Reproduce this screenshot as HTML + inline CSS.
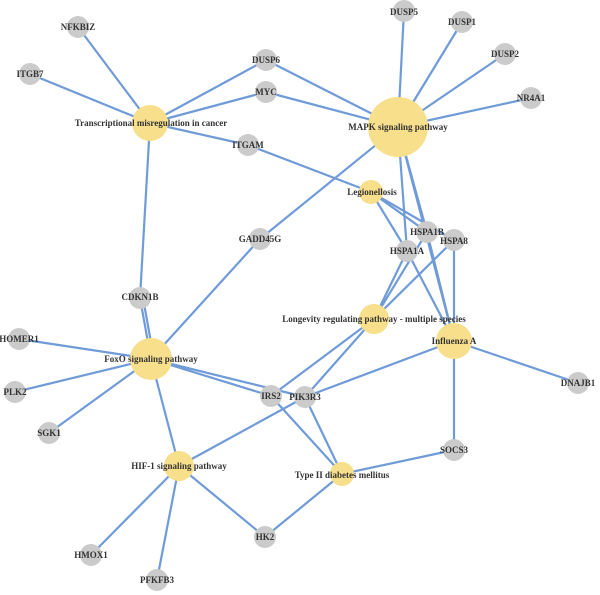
<!DOCTYPE html>
<html><head><style>body{margin:0;background:#fff}svg{display:block}text{font-family:"Liberation Serif",serif;font-weight:bold;font-size:9px;fill:#333;text-anchor:middle;dominant-baseline:central}</style></head><body>
<svg width="600" height="595" viewBox="0 0 600 595">
<g stroke="#6f9bd8" stroke-width="2.2" fill="none">
<line x1="150" y1="123" x2="78" y2="27"/><line x1="150" y1="123" x2="30" y2="74"/><line x1="150" y1="123" x2="266" y2="60"/><line x1="150" y1="123" x2="266" y2="92"/><line x1="150" y1="123" x2="248" y2="145"/><line x1="150" y1="123" x2="140" y2="298"/>
<line x1="398" y1="127" x2="266" y2="60"/><line x1="398" y1="127" x2="266" y2="92"/><line x1="398" y1="127" x2="404" y2="11"/><line x1="398" y1="127" x2="462" y2="22"/><line x1="398" y1="127" x2="505" y2="54"/><line x1="398" y1="127" x2="531" y2="98"/><line x1="398" y1="127" x2="260" y2="239"/><line x1="398" y1="127" x2="407" y2="251"/><line x1="398" y1="127" x2="427" y2="232"/><line x1="398" y1="127" x2="454" y2="341"/>
<line x1="248" y1="145" x2="371" y2="192"/><line x1="371" y1="192" x2="407" y2="251"/><line x1="371" y1="192" x2="427" y2="232"/><line x1="371" y1="192" x2="454" y2="240"/>
<line x1="260" y1="239" x2="151" y2="359"/><line x1="140" y1="298" x2="151" y2="359"/><line x1="143" y1="298" x2="154" y2="359"/>
<line x1="151" y1="359" x2="19" y2="339"/><line x1="151" y1="359" x2="15" y2="392"/><line x1="151" y1="359" x2="49" y2="433"/><line x1="151" y1="359" x2="179" y2="466"/><line x1="151" y1="359" x2="271" y2="396"/><line x1="151" y1="359" x2="305" y2="397"/>
<line x1="179" y1="466" x2="91" y2="555"/><line x1="179" y1="466" x2="157" y2="580"/><line x1="179" y1="466" x2="265" y2="537"/><line x1="179" y1="466" x2="305" y2="397"/>
<line x1="265" y1="537" x2="342" y2="474"/><line x1="342" y1="474" x2="271" y2="396"/><line x1="342" y1="474" x2="305" y2="397"/><line x1="342" y1="474" x2="454" y2="450"/>
<line x1="374" y1="319" x2="271" y2="396"/><line x1="374" y1="319" x2="305" y2="397"/><line x1="374" y1="319" x2="407" y2="251"/><line x1="374" y1="319" x2="427" y2="232"/><line x1="374" y1="319" x2="454" y2="240"/>
<line x1="454" y1="341" x2="305" y2="397"/><line x1="454" y1="341" x2="578" y2="383"/><line x1="454" y1="341" x2="454" y2="450"/><line x1="454" y1="341" x2="407" y2="251"/><line x1="454" y1="341" x2="427" y2="232"/><line x1="454" y1="341" x2="454" y2="240"/>
</g>
<g fill="#cbcbcb">
<circle cx="78" cy="27" r="11"/><circle cx="30" cy="74" r="11"/><circle cx="266" cy="60" r="11"/><circle cx="266" cy="92" r="11"/><circle cx="248" cy="145" r="11"/><circle cx="260" cy="239" r="11"/><circle cx="140" cy="298" r="11"/>
<circle cx="404" cy="11" r="11"/><circle cx="462" cy="22" r="11"/><circle cx="505" cy="54" r="11"/><circle cx="531" cy="98" r="11"/><circle cx="427" cy="232" r="11"/><circle cx="454" cy="240" r="11"/><circle cx="407" cy="251" r="11"/>
<circle cx="19" cy="339" r="11"/><circle cx="15" cy="392" r="11"/><circle cx="49" cy="433" r="11"/><circle cx="265" cy="537" r="11"/><circle cx="91" cy="555" r="11"/><circle cx="157" cy="580" r="11"/><circle cx="271" cy="396" r="11"/><circle cx="305" cy="397" r="11"/><circle cx="578" cy="383" r="11"/><circle cx="454" cy="450" r="11"/>
</g>
<g fill="#f8df8b">
<circle cx="150" cy="123" r="18"/><circle cx="398" cy="127" r="30"/><circle cx="371" cy="192" r="12"/><circle cx="151" cy="359" r="21"/><circle cx="179" cy="466" r="15"/><circle cx="374" cy="319" r="15"/><circle cx="454" cy="341" r="18"/><circle cx="342" cy="474" r="12"/>
</g>
<text x="78" y="27">NFKBIZ</text><text x="30" y="74">ITGB7</text><text x="266" y="60">DUSP6</text><text x="266" y="92">MYC</text><text x="248" y="145">ITGAM</text><text x="260" y="239">GADD45G</text><text x="140" y="297">CDKN1B</text>
<text x="404" y="12">DUSP5</text><text x="462" y="22">DUSP1</text><text x="505" y="54">DUSP2</text><text x="531" y="98">NR4A1</text><text x="427" y="232">HSPA1B</text><text x="454" y="241">HSPA8</text><text x="407" y="251">HSPA1A</text>
<text x="19" y="339">HOMER1</text><text x="15" y="392">PLK2</text><text x="49" y="433">SGK1</text><text x="265" y="537">HK2</text><text x="91" y="555">HMOX1</text><text x="157" y="580">PFKFB3</text><text x="271" y="396">IRS2</text><text x="305" y="397">PIK3R3</text><text x="578" y="383">DNAJB1</text><text x="454" y="450">SOCS3</text>
<text x="151" y="123">Transcriptional misregulation in cancer</text><text x="398" y="127">MAPK signaling pathway</text><text x="372" y="192">Legionellosis</text><text x="151" y="359">FoxO signaling pathway</text><text x="179" y="466">HIF-1 signaling pathway</text><text x="374" y="319">Longevity regulating pathway - multiple species</text><text x="454" y="341">Influenza A</text><text x="342" y="475">Type II diabetes mellitus</text>
</svg>
</body></html>
